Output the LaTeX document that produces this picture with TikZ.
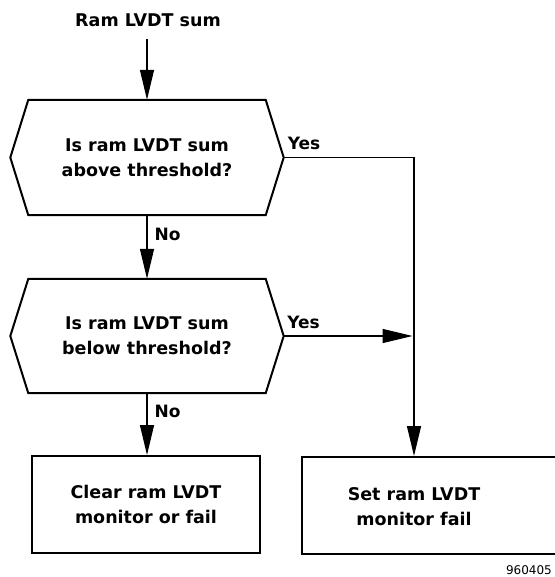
\documentclass[tikz,border=0pt]{standalone}
\usepackage{fontspec}
\setmainfont{DejaVu Sans}
\usetikzlibrary{arrows.meta,calc}
\begin{document}
\begin{tikzpicture}[x=1pt,y=-1pt,
 txt/.style={font=\bfseries\fontsize{17.5}{25}\selectfont, align=center, inner sep=0pt},
 hexbox/.style={txt, minimum width=237pt, minimum height=115pt},
 outline/.style={line width=2pt, line join=miter},
 conn/.style={line width=1.3pt},
 arr/.style={conn, -{Triangle[length=30pt,width=14pt]}},
 lab/.style={font=\bfseries\fontsize{17}{20}\selectfont, inner sep=0pt},
 procbox/.style={txt, draw, outline, minimum height=97pt}]
\useasboundingbox (0,0) rectangle (554,577);
% title
\node[txt] (title) at (148,20) {Ram LVDT sum};
% decision 1
\node[hexbox] (h1) at (147,157.5) {Is ram LVDT sum\\above threshold?};
\coordinate (h1r) at ($(h1.east)+(18,0)$);
\coordinate (h1l) at ($(h1.west)+(-18,0)$);
\draw[outline] (h1.north west) -- (h1.north east) -- (h1r) -- (h1.south east)
  -- (h1.south west) -- (h1l) -- cycle;
% decision 2
\node[hexbox, minimum height=114pt] (h2) at (147,336) {Is ram LVDT sum\\below threshold?};
\coordinate (h2r) at ($(h2.east)+(18,0)$);
\coordinate (h2l) at ($(h2.west)+(-18,0)$);
\draw[outline] (h2.north west) -- (h2.north east) -- (h2r) -- (h2.south east)
  -- (h2.south west) -- (h2l) -- cycle;
% process boxes
\node[procbox, minimum width=228pt] (clear) at (146,504.5) {Clear ram LVDT\\monitor or fail};
\node[procbox, minimum width=262pt, anchor=north west] (set) at (301,456) {};
\node[txt] (settxt) at (414,507) {Set ram LVDT\\monitor fail};
% junctions
\coordinate (j1) at (h1r -| settxt);
\coordinate (j2) at (h2r -| settxt);
% connectors
\draw[arr, shorten <=12pt] (title.south -| h1.north) -- (h1.north);
\draw[arr] (h1.south) -- node[lab, pos=0.3, anchor=west, xshift=7pt] {No} (h2.north);
\draw[arr] (h2.south) -- node[lab, pos=0.3, anchor=west, xshift=7pt] {No} (clear.north -| h2.south);
\draw[arr] (h1r) -- (j1) -- (j1 |- set.north);
\draw[arr, shorten >=1.5pt] (h2r) -- (j2);
\node[lab, anchor=base west] (yes1) at ($(h1r)+(4,-7.5)$) {Yes};
\node[lab, anchor=base west] (yes2) at ($(h2r)+(3.5,-8)$) {Yes};
% figure number
\node[font=\fontsize{12}{12}\selectfont, anchor=base east, inner sep=0pt] (fig) at (552,574) {960405};
\end{tikzpicture}
\end{document}
